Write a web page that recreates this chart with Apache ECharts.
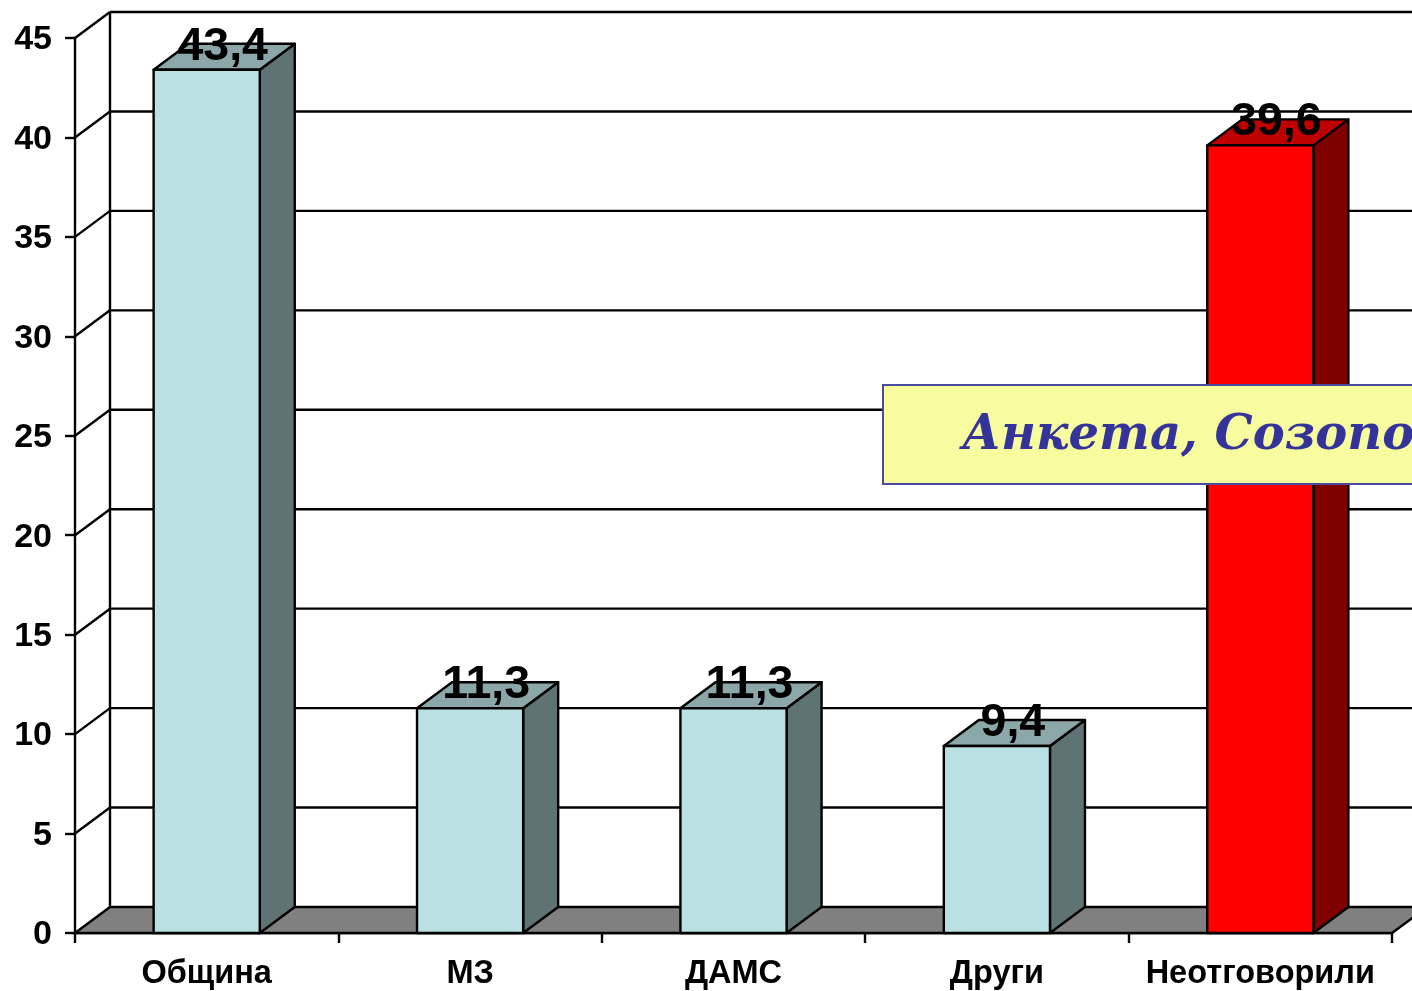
<!DOCTYPE html>
<html>
<head>
<meta charset="utf-8">
<style>html,body{margin:0;padding:0;background:#fff;overflow:hidden}#c{width:1412px;height:991px}</style>
<script src="https://cdn.jsdelivr.net/npm/echarts@6/dist/echarts.min.js"></script>
</head>
<body>
<div id="c"></div>
<script>
const categories = ['Община', 'МЗ', 'ДАМС', 'Други', 'Неотговорили'];
const values = [43.4, 11.3, 11.3, 9.4, 39.6];
const valueLabels = ['43,4', '11,3', '11,3', '9,4', '39,6'];
const yTicks = [0, 5, 10, 15, 20, 25, 30, 35, 40, 45];
const highlightedCategory = 'Неотговорили';
const boxText = 'Анкета, Созопол';

const DX = 35, DY = -26;
const FONT = '"Liberation Sans", Arial, sans-serif';
const normal = { front: '#B9E0E3', top: '#8CA7A9', side: '#5F7274' };
const accent = { front: '#FF0000', top: '#BF0000', side: '#800000' };
const LW = 2.4;
const edge = { stroke: '#000', lineWidth: LW };

function wallItem(params, api) {
  const v = api.value(1);
  const p = api.coord([0, v]);
  const cs = params.coordSys;
  const x0 = cs.x, xr = cs.x + cs.width, y = p[1];
  const children = [];
  if (v === 0) {
    const top = api.coord([0, yTicks[yTicks.length - 1]])[1];
    children.push({ type: 'polygon', shape: { points: [[x0, y], [x0 + DX, y + DY], [xr + DX, y + DY], [xr, y]] }, style: { fill: '#808080', stroke: '#000', lineWidth: LW } });
    children.push({ type: 'line', shape: { x1: x0 + DX, y1: y + DY, x2: x0 + DX, y2: top + DY }, style: edge });
  } else {
    children.push({ type: 'line', shape: { x1: x0 + DX, y1: y + DY, x2: xr + DX, y2: y + DY }, style: edge });
    children.push({ type: 'line', shape: { x1: x0, y1: y, x2: x0 + DX, y2: y + DY }, style: edge });
  }
  return { type: 'group', children };
}

function barItem(params, api) {
  const i = api.value(0), v = api.value(1);
  const p = api.coord([i, v]), b = api.coord([i, 0]);
  const w = api.size([1, 0])[0] * 0.403;
  const l = p[0] - w / 2, r = p[0] + w / 2, t = p[1], bt = b[1];
  const c = categories[i] === highlightedCategory ? accent : normal;
  const poly = (points, fill) => ({ type: 'polygon', shape: { points }, style: { fill, stroke: '#000', lineWidth: LW, lineJoin: 'round' } });
  return { type: 'group', children: [
    poly([[r, t], [r + DX, t + DY], [r + DX, bt + DY], [r, bt]], c.side),
    poly([[l, t], [l + DX, t + DY], [r + DX, t + DY], [r, t]], c.top),
    poly([[l, t], [r, t], [r, bt], [l, bt]], c.front),
    { type: 'text', style: { x: p[0] + 16, y: t + DY + 3, text: valueLabels[i], fill: '#000', font: 'bold 46.5px ' + FONT, align: 'center', verticalAlign: 'middle' } }
  ] };
}

const chart = echarts.init(document.getElementById('c'), null, { renderer: 'canvas' });
chart.setOption({
  animation: false,
  backgroundColor: '#fff',
  grid: { left: 75, right: 20, top: 38, bottom: 58, containLabel: false, outerBoundsMode: 'none' },
  xAxis: {
    type: 'category', data: categories,
    axisLine: { lineStyle: { color: '#000', width: LW } },
    axisTick: { show: true, alignWithLabel: false, length: 10, lineStyle: { color: '#000', width: LW } },
    axisLabel: { color: '#000', fontFamily: FONT, fontWeight: 'bold', fontSize: 32.5, margin: 25, interval: 0 }
  },
  yAxis: {
    type: 'value', min: 0, max: 45, interval: 5,
    axisLine: { show: true, lineStyle: { color: '#000', width: LW } },
    axisTick: { show: true, length: 10, lineStyle: { color: '#000', width: LW } },
    axisLabel: { color: '#000', fontFamily: FONT, fontWeight: 'bold', fontSize: 34, margin: 23, verticalAlign: 'top', lineHeight: 4 },
    splitLine: { show: false }
  },
  graphic: [
    { type: 'rect', z: 100, shape: { x: 883, y: 385, width: 560, height: 99 }, style: { fill: '#F7FC9E', stroke: '#4A4AA0', lineWidth: 2 } },
    { type: 'text', z: 101, style: { x: 962, y: 437, text: boxText, fill: '#333399', font: 'italic bold 48px "DejaVu Serif", serif', verticalAlign: 'middle' } }
  ],
  series: [
    { type: 'custom', z: 1, renderItem: wallItem, data: yTicks.map(v => [0, v]), silent: true },
    { type: 'custom', z: 2, renderItem: barItem, data: values.map((v, i) => [i, v]), silent: true }
  ]
});
</script>
</body>
</html>
